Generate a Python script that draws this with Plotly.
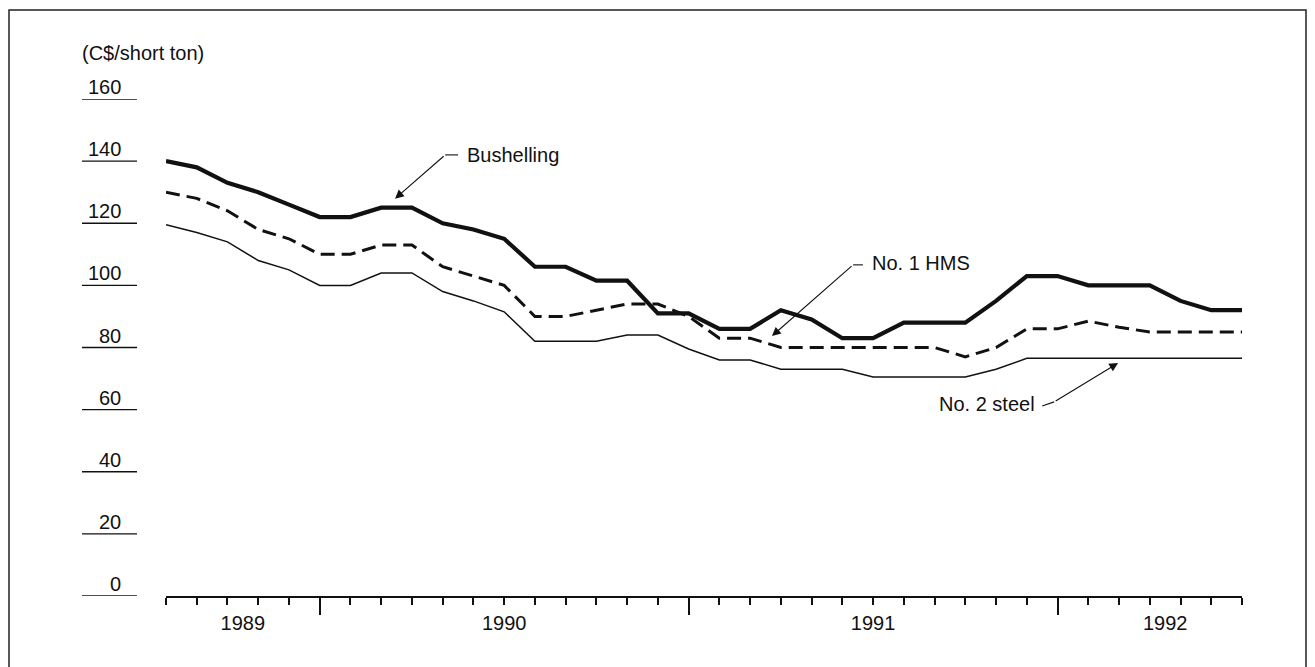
import plotly.graph_objects as go

# Monthly scrap prices, Aug 1989 - Jul 1992 (C$/short ton)
months = [
    "Aug-89", "Sep-89", "Oct-89", "Nov-89", "Dec-89",
    "Jan-90", "Feb-90", "Mar-90", "Apr-90", "May-90", "Jun-90",
    "Jul-90", "Aug-90", "Sep-90", "Oct-90", "Nov-90", "Dec-90",
    "Jan-91", "Feb-91", "Mar-91", "Apr-91", "May-91", "Jun-91",
    "Jul-91", "Aug-91", "Sep-91", "Oct-91", "Nov-91", "Dec-91",
    "Jan-92", "Feb-92", "Mar-92", "Apr-92", "May-92", "Jun-92", "Jul-92",
]
bushelling = [140, 138, 133, 130, 126, 122, 122, 125, 125, 120, 118, 115,
              106, 106, 101.5, 101.5, 91, 91, 86, 86, 92, 89, 83, 83,
              88, 88, 88, 95, 103, 103, 100, 100, 100, 95, 92, 92]
no1_hms = [130, 128, 124, 118, 115, 110, 110, 113, 113, 106, 103, 100,
           90, 90, 92, 94, 94, 90, 83, 83, 80, 80, 80, 80,
           80, 80, 77, 80, 86, 86, 88.5, 86.5, 85, 85, 85, 85]
no2_steel = [119.5, 117, 114, 108, 105, 100, 100, 104, 104, 98, 95, 91.5,
             82, 82, 82, 84, 84, 79.5, 76, 76, 73, 73, 73, 70.5,
             70.5, 70.5, 70.5, 73, 76.5, 76.5, 76.5, 76.5, 76.5, 76.5, 76.5, 76.5]

y_ticks = [0, 20, 40, 60, 80, 100, 120, 140, 160]
year_labels = ["1989", "1990", "1991", "1992"]
year_label_pos = [2.5, 11, 23, 32.5]
year_breaks = [5, 17, 29]

x = list(range(len(months)))

FONT = "Liberation Sans, Arial, Helvetica, sans-serif"
INK = "#111111"

# plot-area geometry in pixels (used for paper-referenced decorations)
W, H = 1315, 667
ML, MR, MT, MB = 166, 73, 99, 71
PW = W - ML - MR
PH = H - MT - MB


def px_x(p):
    return (p - ML) / PW


def px_y(p):
    return (H - MB - p) / PH


fig = go.Figure()

fig.add_trace(go.Scatter(x=x, y=no2_steel, mode="lines", name="No. 2 steel",
                         line=dict(color=INK, width=1.5)))
fig.add_trace(go.Scatter(x=x, y=no1_hms, mode="lines", name="No. 1 HMS",
                         line=dict(color=INK, width=3, dash="14px,7px")))
fig.add_trace(go.Scatter(x=x, y=bushelling, mode="lines", name="Bushelling",
                         line=dict(color=INK, width=4.2)))
# carrier for the year-boundary tick axis
fig.add_trace(go.Scatter(x=[0], y=[0], xaxis="x2", mode="markers",
                         marker=dict(size=0, opacity=0), hoverinfo="skip",
                         showlegend=False))

shapes = []
annotations = []

# value scale drawn as underlined labels at the left
for v in y_ticks:
    shapes.append(dict(type="line", xref="paper", yref="y",
                       x0=px_x(82), x1=px_x(137), y0=v, y1=v,
                       line=dict(color=INK, width=1.3)))
    annotations.append(dict(text=str(v), xref="paper", yref="y",
                            x=px_x(123), y=v, xanchor="right", yanchor="bottom",
                            yshift=-1, showarrow=False,
                            font=dict(family=FONT, size=20, color=INK)))

annotations.append(dict(text="(C$/short ton)", xref="paper", yref="paper",
                        x=px_x(80), y=px_y(53), xanchor="left", yanchor="middle",
                        showarrow=False, font=dict(family=FONT, size=20, color=INK)))

# series call-outs
label_font = dict(family=FONT, size=20, color=INK)
annotations += [
    dict(text="Bushelling", x=9.72, y=142, xanchor="left", yanchor="middle",
         showarrow=False, font=label_font),
    dict(text="", x=7.45, y=127.9, ax=9.08, ay=142, axref="x", ayref="y",
         showarrow=True, arrowhead=2, arrowsize=1.6, arrowwidth=1.1, arrowcolor=INK),
    dict(text="No. 1 HMS", x=22.9, y=107.2, xanchor="left", yanchor="middle",
         showarrow=False, font=label_font),
    dict(text="", x=19.71, y=83.7, ax=22.35, ay=106.6, axref="x", ayref="y",
         showarrow=True, arrowhead=2, arrowsize=1.6, arrowwidth=1.1, arrowcolor=INK),
    dict(text="No. 2 steel", x=28.33, y=61.8, xanchor="right", yanchor="middle",
         showarrow=False, font=label_font),
    dict(text="", x=30.97, y=75.0, ax=28.89, ay=62.5, axref="x", ayref="y",
         showarrow=True, arrowhead=2, arrowsize=1.6, arrowwidth=1.1, arrowcolor=INK),
]
shapes += [
    dict(type="line", xref="x", yref="y", x0=9.08, x1=9.5, y0=142, y1=142,
         line=dict(color=INK, width=1.1)),
    dict(type="line", xref="x", yref="y", x0=22.35, x1=22.67, y0=106.6, y1=106.6,
         line=dict(color=INK, width=1.1)),
    dict(type="line", xref="x", yref="y", x0=28.5, x1=28.89, y0=61.2, y1=62.5,
         line=dict(color=INK, width=1.1)),
]

# page frame
shapes.append(dict(type="rect", xref="paper", yref="paper",
                   x0=px_x(9), x1=px_x(1306), y0=px_y(10), y1=px_y(720),
                   line=dict(color="#222222", width=1.5), layer="below"))

fig.update_layout(
    width=W, height=H,
    margin=dict(l=ML, r=MR, t=MT, b=MB),
    paper_bgcolor="white", plot_bgcolor="white",
    showlegend=False,
    font=dict(family=FONT, color=INK),
    xaxis=dict(range=[0, 35], showgrid=False, zeroline=False,
               showline=True, linecolor=INK, linewidth=1.5,
               tickmode="array", tickvals=year_label_pos, ticktext=year_labels,
               ticks="", ticklabelstandoff=8,
               tickfont=dict(family=FONT, size=20, color=INK),
               minor=dict(tickmode="array", tickvals=x, ticks="outside",
                          ticklen=7, tickwidth=1.5, tickcolor=INK, showgrid=False)),
    xaxis2=dict(overlaying="x", matches="x", anchor="y", side="bottom",
                range=[0, 35], showgrid=False, zeroline=False, showline=False,
                tickmode="array", tickvals=year_breaks, ticks="outside",
                ticklen=18, tickwidth=1.5, tickcolor=INK, showticklabels=False),
    yaxis=dict(range=[0, 160], visible=False),
    shapes=shapes,
    annotations=annotations,
)

fig.write_html("out.html")
